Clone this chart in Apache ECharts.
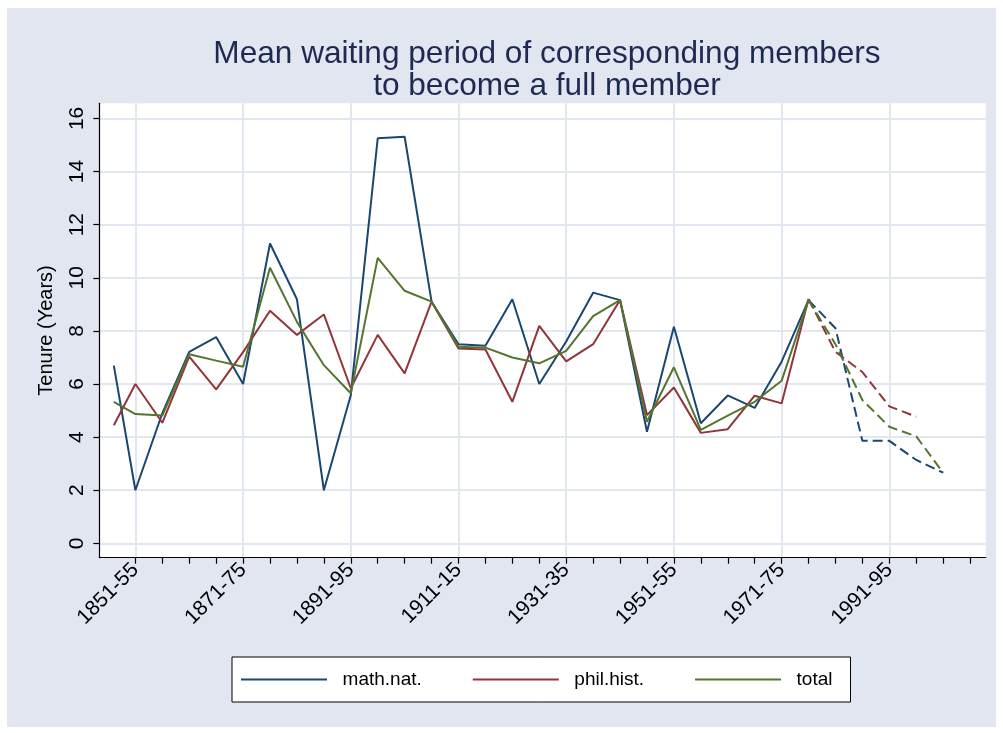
<!DOCTYPE html>
<html>
<head>
<meta charset="utf-8">
<script src="https://cdn.jsdelivr.net/npm/echarts@6/dist/echarts.min.js"></script>
<style>
  html, body { margin: 0; padding: 0; background: #fff; }
  #bg { position: absolute; left: 7px; top: 8px; width: 989px; height: 719px; background: #e1e6f0; }
  #main { position: absolute; left: 0; top: 0; width: 1003px; height: 733px; }
</style>
</head>
<body>
<div id="bg"></div>
<div id="main"></div>
<script>
// periods (start year), last one of the solid part is 1976
const years = [1847, 1851, 1856, 1861, 1866, 1871, 1876, 1881, 1886, 1891, 1896, 1901, 1906, 1911,
  1916, 1921, 1926, 1931, 1936, 1941, 1946, 1951, 1956, 1961, 1966, 1971, 1976];
const yearsDashed = [1976, 1981, 1986, 1991, 1996, 2001];

const mathNat = [6.69, 2.0, 4.9, 7.21, 7.77, 6.0, 11.29, 9.19, 2.0, 5.58, 15.25, 15.31, 9.1, 7.5,
  7.44, 9.19, 6.0, 7.6, 9.44, 9.16, 4.2, 8.16, 4.52, 5.57, 5.1, 6.84, 9.16];
const mathNatDashed = [9.16, 8.1, 3.86, 3.86, 3.14, 2.66];

const philHist = [4.45, 6.0, 4.54, 7.03, 5.8, 7.2, 8.76, 7.85, 8.62, 5.84, 7.85, 6.4, 9.1, 7.34,
  7.3, 5.33, 8.19, 6.85, 7.5, 9.16, 4.83, 5.87, 4.16, 4.3, 5.56, 5.27, 9.2];
const philHistDashed = [9.2, 7.21, 6.45, 5.16, 4.77];

const total = [5.33, 4.87, 4.81, 7.12, 6.88, 6.65, 10.38, 8.34, 6.71, 5.65, 10.75, 9.51, 9.1, 7.4,
  7.37, 7.0, 6.78, 7.25, 8.56, 9.16, 4.58, 6.63, 4.27, 4.81, 5.33, 6.12, 9.16];
const totalDashed = [9.16, 7.5, 5.4, 4.39, 4.03, 2.66];

const minorTicks = [1851, 1856, 1861, 1866, 1871, 1876, 1881, 1886, 1891, 1896, 1901, 1906, 1911,
  1916, 1921, 1926, 1931, 1936, 1941, 1946, 1951, 1956, 1961, 1966, 1971, 1976, 1981, 1986, 1991,
  1996, 2001, 2006];
const majorTicks = [1851, 1871, 1891, 1911, 1931, 1951, 1971, 1991];
const tickLabels = ['1851-55', '1871-75', '1891-95', '1911-15', '1931-35', '1951-55', '1971-75', '1991-95'];
const yTicks = [0, 2, 4, 6, 8, 10, 12, 14, 16];

const colors = ['#1a476f', '#90353b', '#55752f'];
const FONT = 'Liberation Sans, Arial, Helvetica, sans-serif';

function pairs(xs, ys) {
  return ys.map((v, i) => [xs[i], v]);
}

function lineSeries(name, data, color, dashed) {
  return {
    name: name,
    type: 'line',
    data: data,
    symbol: 'none',
    animation: false,
    lineStyle: { color: color, width: 2, type: dashed ? [10, 5] : 'solid' },
    itemStyle: { color: color },
  };
}

const chart = echarts.init(document.getElementById('main'), null, { renderer: 'canvas' });

const option = {
  backgroundColor: 'transparent',
  animation: false,
  title: {
    text: 'Mean waiting period of corresponding members\nto become a full member',
    left: 542,
    top: 33,
    textAlign: 'center',
    textStyle: {
      fontFamily: FONT,
      fontSize: 31.6,
      lineHeight: 32,
      fontWeight: 'normal',
      color: '#1e2a52',
    },
  },
  legend: {
    data: ['math.nat.', 'phil.hist.', 'total'],
    left: 232,
    top: 657,
    orient: 'horizontal',
    icon: 'rect',
    itemWidth: 86,
    itemHeight: 2,
    itemGap: 51,
    padding: [13, 18, 13, 9],
    backgroundColor: '#fff',
    borderColor: '#000',
    borderWidth: 1,
    borderRadius: 0,
    formatter: n => '  ' + n,
    textStyle: { fontFamily: FONT, fontSize: 19, color: '#000' },
  },
  grid: {
    left: 99.3,
    top: 103.3,
    right: 17.3,
    bottom: 175.3,
    show: true,
    backgroundColor: '#fff',
    borderWidth: 0,
    outerBoundsMode: 'none',
  },
  xAxis: [
    {
      type: 'value',
      min: 1844.3,
      max: 2008.9,
      position: 'bottom',
      axisLine: { show: true, onZero: false, lineStyle: { color: '#000', width: 1.2 } },
      axisTick: { show: true, length: 6, customValues: minorTicks, lineStyle: { color: '#000', width: 1.2 } },
      axisLabel: {
        customValues: majorTicks,
        rotate: 45,
        margin: 9,
        fontFamily: FONT,
        fontSize: 21,
        color: '#000',
        formatter: v => tickLabels[majorTicks.indexOf(v)] || '',
      },
      splitLine: { show: false },
    },
    {
      type: 'value',
      min: 1844.3,
      max: 2008.9,
      position: 'top',
      axisLine: { show: false },
      axisTick: { show: false, customValues: majorTicks },
      axisLabel: { show: false, customValues: majorTicks },
      splitLine: { show: true, customValues: majorTicks, lineStyle: { color: '#e1e6f0', width: 2 } },
    },
  ],
  yAxis: {
    type: 'value',
    min: -0.54,
    max: 16.57,
    name: 'Tenure (Years)',
    nameLocation: 'middle',
    nameRotate: 90,
    nameGap: 43,
    nameTextStyle: { fontFamily: FONT, fontSize: 20, color: '#000' },
    axisLine: { show: true, onZero: false, lineStyle: { color: '#000', width: 1.2 } },
    axisTick: { show: true, length: 6, customValues: yTicks, lineStyle: { color: '#000', width: 1.2 } },
    axisLabel: {
      customValues: yTicks,
      rotate: 90,
      margin: 12,
      fontFamily: FONT,
      fontSize: 21,
      color: '#000',
    },
    splitLine: { show: true, customValues: yTicks, lineStyle: { color: '#e1e6f0', width: 2 } },
  },
  series: [
    lineSeries('math.nat.', pairs(years, mathNat), colors[0], false),
    lineSeries('math.nat.', pairs(yearsDashed, mathNatDashed), colors[0], true),
    lineSeries('phil.hist.', pairs(years, philHist), colors[1], false),
    lineSeries('phil.hist.', pairs(yearsDashed, philHistDashed), colors[1], true),
    lineSeries('total', pairs(years, total), colors[2], false),
    lineSeries('total', pairs(yearsDashed, totalDashed), colors[2], true),
  ],
};

chart.setOption(option);
</script>
</body>
</html>
